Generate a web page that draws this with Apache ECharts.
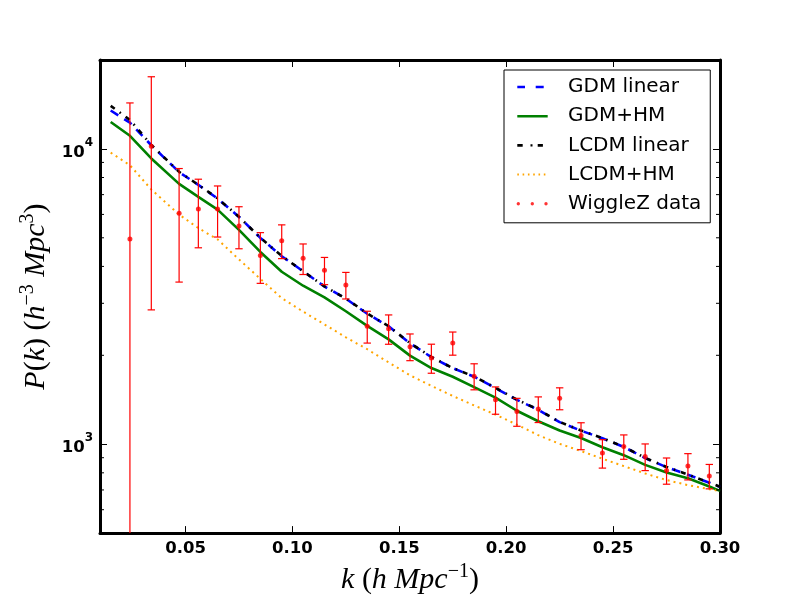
<!DOCTYPE html>
<html>
<head>
<meta charset="utf-8">
<script src="https://cdn.jsdelivr.net/npm/echarts@6/dist/echarts.min.js"></script>
<style>
html,body{margin:0;padding:0;background:#fff;}
#chart{width:800px;height:600px;}
</style>
</head>
<body>
<div id="chart"></div>
<script>
// ---- data ----
const kMin = 0.01, kMax = 0.30;
const yMin = 500, yMax = 20000;
const xTicks = [0.05, 0.10, 0.15, 0.20, 0.25, 0.30];
const minorTickVals = [600, 700, 800, 900, 2000, 3000, 4000, 5000, 6000, 7000, 8000, 9000];

const kModel = [0.015, 0.024, 0.034, 0.047, 0.056, 0.065, 0.075, 0.085, 0.095, 0.105, 0.115, 0.125, 0.135, 0.145, 0.155, 0.165, 0.175, 0.185, 0.195, 0.205, 0.215, 0.225, 0.235, 0.245, 0.255, 0.265, 0.275, 0.285, 0.295, 0.300];
const gdmLinear = [13490, 12267, 10287, 8343, 7551, 6788, 5885, 4996, 4331, 3852, 3420, 3112, 2765, 2508, 2196, 1972, 1809, 1693, 1549, 1413, 1308, 1188, 1111, 1047, 979, 897, 836, 788, 740, 717];
const gdmHM = [12331, 11075, 9284, 7614, 6877, 6229, 5318, 4477, 3837, 3441, 3143, 2820, 2516, 2265, 1995, 1811, 1692, 1561, 1438, 1298, 1196, 1113, 1049, 977, 918, 851, 802, 767, 719, 695];
const lcdmLinear = [13990, 12540, 10310, 8360, 7560, 6800, 5890, 5000, 4340, 3850, 3425, 3115, 2770, 2510, 2200, 1975, 1810, 1695, 1552, 1415, 1310, 1190, 1113, 1048, 980, 899, 837, 789, 741, 718];
const lcdmHM = [9712, 8805, 7289, 5994, 5392, 4939, 4224, 3631, 3122, 2812, 2545, 2301, 2097, 1892, 1711, 1576, 1457, 1353, 1259, 1165, 1073, 1003, 948, 893, 843, 796, 756, 727, 704, 694];

const kData = [0.024, 0.034, 0.047, 0.056, 0.065, 0.075, 0.085, 0.095, 0.105, 0.115, 0.125, 0.135, 0.145, 0.155, 0.165, 0.175, 0.185, 0.195, 0.205, 0.215, 0.225, 0.235, 0.245, 0.255, 0.265, 0.275, 0.285, 0.295];
const pData = [4950, 10200, 6060, 6260, 6260, 5480, 4355, 4890, 4260, 3880, 3460, 2510, 2460, 2140, 1960, 2200, 1700, 1413, 1290, 1315, 1430, 1070, 933, 982, 908, 815, 843, 780];
const errData = [9360, 7350, 2520, 1635, 1230, 890, 850, 640, 505, 410, 357, 310, 280, 222, 221, 198, 172, 150, 140, 131, 122, 112, 103, 93, 94, 83, 86, 74];

const seriesNames = ['GDM linear', 'GDM+HM', 'LCDM linear', 'LCDM+HM', 'WiggleZ data'];

// ---- helpers ----
const pair = (xs, ys) => xs.map((x, i) => [x, ys[i]]);
const corners = 'M0,0h0.01v0.01h-0.01z M47.99,13.99h0.01v0.01h-0.01z ';
const icons = [
  'path://' + corners + 'M2.3,5.7h7.7v2.6h-7.7z M20.7,5.7h8v2.6h-8z',
  'path://' + corners + 'M2.3,5.7h30.4v2.6h-30.4z',
  'path://' + corners + 'M2.3,5.7h5.4v2.6h-5.4z M15.5,5.9h2v2.2h-2z M22.7,5.7h5.2v2.6h-5.2z',
  'path://' + corners + 'M2.3,6h1.6v2h-1.6z M7.6,6h1.6v2h-1.6z M12.9,6h1.6v2h-1.6z M18.2,6h1.6v2h-1.6z M23.5,6h1.6v2h-1.6z M28.8,6h1.6v2h-1.6z',
  'path://' + corners + 'M1.6,7a1.7,1.7 0 1,0 3.4,0a1.7,1.7 0 1,0 -3.4,0z M15.6,7a1.7,1.7 0 1,0 3.4,0a1.7,1.7 0 1,0 -3.4,0z M29.3,7a1.7,1.7 0 1,0 3.4,0a1.7,1.7 0 1,0 -3.4,0z'
];

const tickFont = 'DejaVu Sans';
const serif = 'Liberation Serif';
const nameRich = {
  i: {fontFamily: serif, fontStyle: 'italic', fontSize: 30, lineHeight: 36, color: '#000'},
  n: {fontFamily: serif, fontSize: 30, lineHeight: 36, color: '#000'},
  s: {fontFamily: serif, fontSize: 20, lineHeight: 18, verticalAlign: 'top', color: '#000'}
};

function spine() { return {show: true, onZero: false, lineStyle: {color: '#000', width: 3}}; }

const xBase = (pos, labels) => ({
  type: 'value', min: kMin, max: kMax, position: pos,
  axisLine: spine(),
  axisTick: {show: true, inside: true, length: 7, lineStyle: {color: '#000', width: 1}, customValues: xTicks},
  axisLabel: labels ? {
    show: true, customValues: xTicks, formatter: v => v.toFixed(2),
    fontFamily: tickFont, fontWeight: 'bold', fontSize: 16.5, color: '#000', margin: 7
  } : {show: false},
  splitLine: {show: false}
});

const yBase = (pos, labels) => ({
  type: 'log', logBase: 10, min: yMin, max: yMax, position: pos,
  axisLine: spine(),
  axisTick: {show: true, inside: true, length: 7, lineStyle: {color: '#000', width: 1}},
  axisLabel: labels ? {
    show: true, margin: 7, showMinLabel: false, showMaxLabel: false,
    formatter: v => {
      const e = Math.log10(v);
      if (Math.abs(e - Math.round(e)) > 1e-6) return '';
      return '{b|10}{e|' + Math.round(e) + '}';
    },
    rich: {
      b: {fontFamily: tickFont, fontWeight: 'bold', fontSize: 16.5, lineHeight: 24, verticalAlign: 'bottom', color: '#000'},
      e: {fontFamily: tickFont, fontWeight: 'bold', fontSize: 12, lineHeight: 12, verticalAlign: 'top', color: '#000'}
    }
  } : {show: false},
  splitLine: {show: false},
  minorTick: {show: false}
});

const xAxis0 = xBase('bottom', true);
xAxis0.name = '{i|k}{n| (}{i|h Mpc}{s|−1}{n|)}';
xAxis0.nameLocation = 'middle';
xAxis0.nameGap = 26;
xAxis0.nameTextStyle = {rich: nameRich, verticalAlign: 'top'};
const xAxis1 = xBase('top', false);

const yAxis0 = yBase('left', true);
yAxis0.name = '{i|P}{n|(}{i|k}{n|) (}{i|h}{s|−3}{n| }{i|Mpc}{s|3}{n|)}';
yAxis0.nameLocation = 'middle';
yAxis0.nameGap = 46;
yAxis0.nameTextStyle = {rich: nameRich};
const yAxis1 = yBase('right', false);

function renderErr(params, api) {
  const k = api.value(0), v = api.value(1), e = api.value(2);
  const cs = params.coordSys;
  const top = api.coord([k, v + e]);
  const lower = v - e;
  const hasLow = lower > yMin;
  const bot = hasLow ? api.coord([k, lower]) : [top[0], cs.y + cs.height];
  const cap = 3.7;
  const style = {stroke: '#ff0000', lineWidth: 1.2, fill: null};
  const children = [
    {type: 'line', shape: {x1: top[0], y1: top[1], x2: bot[0], y2: bot[1]}, style: style},
    {type: 'line', shape: {x1: top[0] - cap, y1: top[1], x2: top[0] + cap, y2: top[1]}, style: style}
  ];
  if (hasLow) children.push({type: 'line', shape: {x1: bot[0] - cap, y1: bot[1], x2: bot[0] + cap, y2: bot[1]}, style: style});
  return {type: 'group', children: children};
}

function renderMinor(params, api) {
  const cs = params.coordSys;
  const y = api.coord([api.value(0), api.value(1)])[1];
  const style = {stroke: '#000', lineWidth: 1, fill: null};
  return {type: 'group', children: [
    {type: 'line', shape: {x1: cs.x, y1: y, x2: cs.x + 4, y2: y}, style: style},
    {type: 'line', shape: {x1: cs.x + cs.width - 4, y1: y, x2: cs.x + cs.width, y2: y}, style: style}
  ]};
}

const lineSeries = (name, data, color, type, width) => ({
  name: name, type: 'line', data: pair(kModel, data),
  symbol: 'none', showSymbol: false, smooth: false, z: 2,
  itemStyle: {color: color},
  lineStyle: {color: color, width: width, type: type},
  emphasis: {disabled: true}
});

const option = {
  animation: false,
  backgroundColor: '#fff',
  grid: {left: 100, right: 80, top: 60, bottom: 60, containLabel: false},
  xAxis: [xAxis0, xAxis1],
  yAxis: [yAxis0, yAxis1],
  legend: {
    data: seriesNames.map((n, i) => ({name: n, icon: icons[i]})),
    orient: 'vertical', left: 504, top: 70,
    itemWidth: 48, itemHeight: 14, itemGap: 7.2,
    padding: [6, 9, 8, 11],
    borderColor: '#000', borderWidth: 1, backgroundColor: '#fff',
    itemStyle: {borderWidth: 0},
    selectedMode: false,
    textStyle: {fontFamily: 'DejaVu Sans', fontSize: 20, color: '#000', lineHeight: 22},
    z: 10
  },
  series: [
    lineSeries(seriesNames[0], gdmLinear, '#0000ff', [9, 7], 2.6),
    lineSeries(seriesNames[1], gdmHM, '#008000', 'solid', 2.6),
    lineSeries(seriesNames[2], lcdmLinear, '#000000', [5, 6, 1.5, 6], 2.6),
    lineSeries(seriesNames[3], lcdmHM, '#ffa500', [2, 4], 2),
    {
      name: seriesNames[4], type: 'scatter', data: pair(kData, pData),
      symbol: 'circle', symbolSize: 5, itemStyle: {color: '#ff0000'}, z: 5,
      emphasis: {disabled: true}
    },
    {
      name: 'errors', type: 'custom', renderItem: renderErr,
      data: kData.map((k, i) => [k, pData[i], errData[i]]),
      encode: {x: 0, y: 1}, z: 4, silent: true, clip: false
    },
    {
      name: 'minorTicks', type: 'custom', renderItem: renderMinor,
      data: minorTickVals.map(v => [kMin, v]),
      encode: {x: 0, y: 1}, z: 6, silent: true
    }
  ]
};

const chart = echarts.init(document.getElementById('chart'), null, {renderer: 'canvas'});
chart.setOption(option);
</script>
</body>
</html>
